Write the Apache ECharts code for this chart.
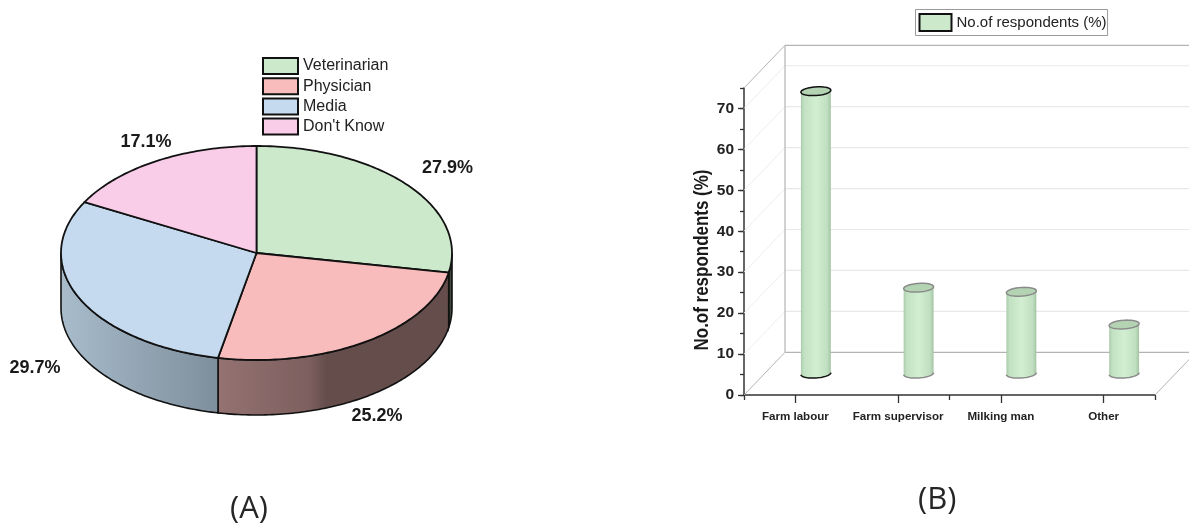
<!DOCTYPE html>
<html>
<head>
<meta charset="utf-8">
<style>html,body{margin:0;padding:0;background:#fff}#c{width:1189px;height:528px}</style>
<script src="https://cdn.jsdelivr.net/npm/echarts@6/dist/echarts.min.js"></script>
</head>
<body>
<div id="c"></div>
<script>
// ---- data ----
const sourceNames = ['Veterinarian', 'Physician', 'Media', "Don't Know"];
const sourceShares = [27.9, 25.2, 29.7, 17.1];
const occupationNames = ['Farm labour', 'Farm supervisor', 'Milking man', 'Other'];
const occupationShares = [69, 21, 20, 12];
const yTickValues = [0, 10, 20, 30, 40, 50, 60, 70];
const barSeriesName = 'No.of respondents (%)';
const yAxisTitle = 'No.of respondents (%)';

// ---- styles / layout ----
const FONT = '"Liberation Sans", Arial, sans-serif';
const sliceTop = ['#cde9cc', '#f9bcbc', '#c5daee', '#f9cde8'];
const sliceSideStops = [
  [[0, '#3d4a3d'], [1, '#3d4a3d']],
  [[0, '#957272'], [0.4, '#7c5f5e'], [0.47, '#644d4b'], [1, '#644d4b']],
  [[0, '#a8bccb'], [1, '#7e8e9c']],
  [[0, '#a58fa0'], [1, '#a58fa0']]
];
const sliceLabelAt = [[447.5, 168], [377, 416.5], [35, 368.5], [146, 142]];
const PIE = { cx: 256.5, cy: 253, rx: 195.5, ry: 107, depth: 55 };
const DEPTH = { x: 41, y: 42.7 };
const BAR = { rx: 15, ry: 4.3, tilt: 0.07 };
const total = sourceShares.reduce((a, b) => a + b, 0);

function piePoint(deg, dy) {
  const t = deg * Math.PI / 180;
  return [PIE.cx + PIE.rx * Math.sin(t), PIE.cy - PIE.ry * Math.cos(t) + (dy || 0)];
}
function arc(a0, a1, dy) {
  const pts = [];
  const n = Math.max(2, Math.ceil(Math.abs(a1 - a0)));
  for (let i = 0; i <= n; i++) pts.push(piePoint(a0 + (a1 - a0) * i / n, dy));
  return pts;
}
function renderSlice(index) {
  const before = sourceShares.slice(0, index).reduce((a, b) => a + b, 0);
  const a0 = before / total * 360;
  const a1 = (before + sourceShares[index]) / total * 360;
  const children = [];
  const s0 = Math.max(a0, 90), s1 = Math.min(a1, 270);
  if (s1 > s0) {
    const wall = arc(s0, s1, 0).concat(arc(s1, s0, PIE.depth));
    children.push({
      type: 'polygon',
      shape: { points: wall },
      style: {
        fill: new echarts.graphic.LinearGradient(0, 0, 1, 0,
          sliceSideStops[index].map(s => ({ offset: s[0], color: s[1] }))),
        stroke: '#111', lineWidth: 1.6
      }
    });
  }
  const top = [[PIE.cx, PIE.cy]].concat(arc(a0, a1, 0));
  children.push({
    type: 'polygon',
    shape: { points: top },
    style: { fill: sliceTop[index], stroke: '#111', lineWidth: 1.8 }
  });
  children.push({
    type: 'text',
    z2: 20,
    style: {
      text: sourceShares[index].toFixed(1) + '%',
      x: sliceLabelAt[index][0], y: sliceLabelAt[index][1],
      align: 'center', verticalAlign: 'middle',
      font: 'bold 18px ' + FONT, fill: '#1a1a1a'
    }
  });
  return { type: 'group', children };
}

const sliceSeries = sourceNames.map((name, i) => ({
  type: 'custom',
  name,
  coordinateSystem: 'none',
  silent: true,
  itemStyle: { color: sliceTop[i] },
  data: [[sourceShares[i]]],
  renderItem: () => renderSlice(i)
}));

function renderWalls(params, api) {
  const r = params.coordSys;
  const left = r.x, right = r.x + r.width, bottom = r.y + r.height, top = r.y;
  const wallColor = '#b4b4b4';
  const line = (x1, y1, x2, y2, color, w) => ({
    type: 'line', shape: { x1, y1, x2, y2 }, style: { stroke: color, lineWidth: w }
  });
  const children = [];
  yTickValues.forEach(v => {
    if (v === 0) return;
    const y = api.coord([0, v])[1];
    children.push(line(left, y, left + DEPTH.x, y - DEPTH.y, '#eeeeee', 1));
    children.push(line(left + DEPTH.x, y - DEPTH.y, right + DEPTH.x, y - DEPTH.y, '#e8e8e8', 1.2));
  });
  children.push(line(left + DEPTH.x, top - DEPTH.y, left + DEPTH.x, bottom - DEPTH.y, wallColor, 1.2));
  children.push(line(left + DEPTH.x, top - DEPTH.y, right + DEPTH.x, top - DEPTH.y, wallColor, 1.2));
  children.push(line(left + DEPTH.x, bottom - DEPTH.y, right + DEPTH.x, bottom - DEPTH.y, wallColor, 1.2));
  children.push(line(left, top, left + DEPTH.x, top - DEPTH.y, wallColor, 1));
  children.push(line(left, bottom, left + DEPTH.x, bottom - DEPTH.y, wallColor, 1));
  children.push(line(right, bottom, right + DEPTH.x, bottom - DEPTH.y, wallColor, 1));
  return { type: 'group', children };
}

function ellipsePt(cx, cy, deg) {
  const t = deg * Math.PI / 180;
  const ex = BAR.rx * Math.cos(t), ey = BAR.ry * Math.sin(t);
  const c = Math.cos(BAR.tilt), s = Math.sin(BAR.tilt);
  return [cx + ex * c + ey * s, cy - ex * s + ey * c];
}
function renderCylinder(params, api) {
  const idx = api.value(0), val = api.value(1);
  const base = api.coord([idx, 0]);
  const head = api.coord([idx, val]);
  const cx = base[0] + DEPTH.x / 2;
  const by = base[1] - DEPTH.y / 2;
  const ty = head[1] - DEPTH.y / 2;
  const first = idx === 0;
  const edge = first ? '#111111' : '#8a8a8a';
  const body = [];
  for (let d = 0; d <= 180; d += 6) body.push(ellipsePt(cx, by, d));
  for (let d = 180; d >= 0; d -= 6) body.push(ellipsePt(cx, ty, d));
  const baseArc = [];
  for (let d = 0; d <= 180; d += 6) baseArc.push(ellipsePt(cx, by, d));
  const lid = [];
  for (let d = 0; d <= 360; d += 6) lid.push(ellipsePt(cx, ty, d));
  return {
    type: 'group',
    children: [
      {
        type: 'polygon',
        shape: { points: body },
        style: {
          fill: new echarts.graphic.LinearGradient(0, 0, 1, 0, [
            { offset: 0, color: '#aacbaa' }, { offset: 0.1, color: '#c2e0c2' },
            { offset: 0.5, color: '#d2efd2' }, { offset: 0.88, color: '#c0dec0' },
            { offset: 1, color: '#a4c4a4' }
          ])
        }
      },
      { type: 'polyline', shape: { points: baseArc }, style: { stroke: edge, lineWidth: 1.5, fill: 'none' } },
      { type: 'polygon', shape: { points: lid }, style: { fill: '#b3d3b3', stroke: edge, lineWidth: 1.5 } }
    ]
  };
}

const option = {
  animation: false,
  backgroundColor: '#ffffff',
  textStyle: { fontFamily: FONT },
  legend: [
    {
      data: sourceNames, orient: 'vertical', left: 262, top: 57, padding: 0,
      itemWidth: 35, itemHeight: 16, itemGap: 2.2, icon: 'rect',
      selectedMode: false,
      itemStyle: { borderColor: '#111', borderWidth: 2 },
      textStyle: { fontFamily: FONT, fontSize: 16, lineHeight: 16, color: '#222' }
    },
    {
      data: [barSeriesName], left: 915.5, top: 9.5, padding: [3.5, 1, 3.5, 3],
      itemWidth: 32, itemHeight: 17, icon: 'rect', selectedMode: false,
      borderColor: '#9a9a9a', borderWidth: 1, backgroundColor: '#fff',
      itemStyle: { color: '#cde9cc', borderColor: '#111', borderWidth: 2 },
      textStyle: { fontFamily: FONT, fontSize: 15, lineHeight: 17, color: '#222' }
    }
  ],
  grid: { left: 744, right: 34, top: 88, bottom: 133, containLabel: false },
  xAxis: [
    {
      type: 'category', data: occupationNames, position: 'bottom',
      axisLine: { lineStyle: { color: '#333', width: 1.5 } },
      axisTick: { show: true, alignWithLabel: true, length: 8, lineStyle: { color: '#333', width: 1.3 } },
      axisLabel: { color: '#222', fontWeight: 'bold', fontSize: 11.6, margin: 16, interval: 0 }
    },
    {
      type: 'category', data: occupationNames, position: 'bottom',
      axisLine: { show: false },
      axisTick: { show: true, length: 5, lineStyle: { color: '#333', width: 1.3 } },
      axisLabel: { show: false }
    }
  ],
  yAxis: [
    {
      type: 'value', min: 0, max: 75, interval: 10,
      axisLine: { show: true, lineStyle: { color: '#333', width: 1.5 } },
      axisTick: { show: true, length: 6, customValues: yTickValues, lineStyle: { color: '#333', width: 1.3 } },
      axisLabel: { color: '#222', fontWeight: 'bold', fontSize: 15.5, margin: 10, customValues: yTickValues },
      splitLine: { show: false }
    },
    {
      type: 'value', min: 0, max: 75, interval: 5,
      axisLine: { show: false }, position: 'left',
      axisTick: { show: true, length: 4, lineStyle: { color: '#333', width: 1.3 } },
      axisLabel: { show: false }, splitLine: { show: false }
    }
  ],
  graphic: [
    {
      type: 'text', x: 702.5, y: 260, rotation: Math.PI / 2, scaleX: 0.87,
      style: { text: yAxisTitle, font: 'bold 19.5px ' + FONT, fill: '#1a1a1a', align: 'center', verticalAlign: 'middle' }
    },
    { type: 'text', left: 230, top: 494, style: { text: '(A)', font: '31px "Open Sans", sans-serif', fill: '#262626' } },
    { type: 'text', left: 918, top: 485, style: { text: '(B)', font: '31px "Open Sans", sans-serif', fill: '#262626' } }
  ],
  series: sliceSeries.concat([
    {
      type: 'custom', name: 'walls', silent: true, z: 1, clip: false,
      coordinateSystem: 'cartesian2d', xAxisIndex: 0, yAxisIndex: 0,
      data: [[0, 0]], renderItem: renderWalls
    },
    {
      type: 'custom', name: barSeriesName, silent: true, z: 3, clip: false,
      coordinateSystem: 'cartesian2d', xAxisIndex: 0, yAxisIndex: 0,
      itemStyle: { color: '#cde9cc' },
      encode: { x: 0, y: 1 },
      data: occupationShares.map((v, i) => [i, v]),
      renderItem: renderCylinder
    }
  ])
};
echarts.init(document.getElementById('c'), null, { renderer: 'canvas' }).setOption(option);
</script>
</body>
</html>
